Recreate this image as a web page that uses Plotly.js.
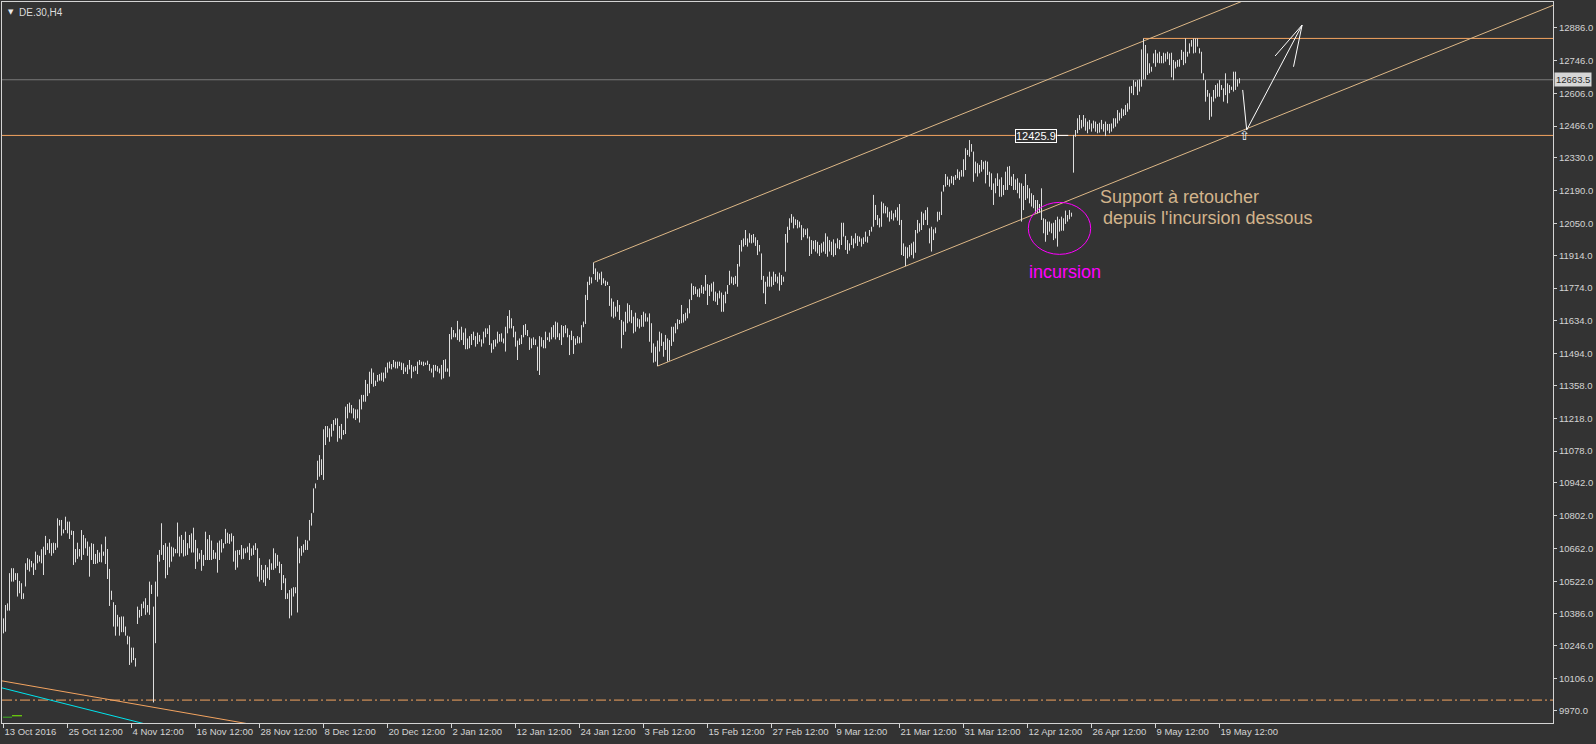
<!DOCTYPE html>
<html><head><meta charset="utf-8">
<script src="https://cdn.plot.ly/plotly-3.0.1.min.js"></script>
<style>html,body{margin:0;padding:0;background:#333333;}#chart{width:1596px;height:744px;}</style>
</head><body><div id="chart"></div>
<script>
// ---- DATA (DE.30, H4 bars: high / low) ----
const barHigh = [
10364,10421,10428,10557,10578,10578,10557,10557,10524,10514,
10471,10599,10621,10616,10609,10599,10649,10635,10631,10659,
10670,10716,10685,10702,10685,10687,10685,10791,10784,10784,
10744,10798,10777,10777,10739,10737,10660,10687,10660,10741,
10720,10706,10692,10670,10685,10682,10639,10656,10645,10680,
10649,10713,10660,10575,10482,10433,10421,10379,10369,10372,
10372,10329,10290,10286,10239,10239,10194,10414,10400,10426,
10436,10450,10421,10521,10507,10414,10521,10635,10656,10770,
10677,10685,10670,10687,10670,10666,10660,10773,10713,10720,
10699,10734,10685,10720,10727,10751,10699,10663,10642,10656,
10635,10734,10702,10720,10696,10656,10645,10687,10696,10702,
10685,10746,10730,10724,10727,10716,10653,10656,10656,10677,
10663,10663,10670,10685,10663,10675,10685,10663,10621,10592,
10571,10592,10582,10616,10599,10663,10642,10635,10606,10596,
10549,10535,10471,10485,10492,10497,10497,10713,10663,10673,
10680,10699,10696,10784,10813,10919,10940,11037,11061,11043,
11171,11185,11185,11175,11194,11211,11218,11218,11185,11194,
11168,11268,11279,11285,11275,11261,11256,11256,11299,11318,
11318,11382,11365,11417,11431,11413,11379,11403,11407,11413,
11413,11436,11456,11460,11450,11467,11460,11460,11460,11456,
11453,11436,11446,11467,11446,11439,11441,11460,11467,11460,
11460,11456,11464,11450,11431,11446,11446,11441,11431,11446,
11467,11470,11431,11578,11607,11595,11581,11634,11598,11609,
11584,11602,11559,11569,11578,11588,11569,11584,11574,11555,
11588,11602,11602,11616,11538,11552,11555,11588,11578,11581,
11559,11609,11655,11680,11645,11612,11588,11550,11559,11574,
11616,11621,11595,11564,11559,11564,11555,11524,11569,11564,
11552,11588,11564,11584,11607,11616,11631,11627,11581,11616,
11612,11616,11602,11574,11592,11569,11559,11569,11564,11616,
11631,11745,11801,11823,11820,11883,11858,11844,11837,11844,
11816,11806,11801,11783,11730,11716,11695,11723,11702,11638,
11631,11673,11709,11702,11680,11652,11669,11645,11641,11659,
11673,11666,11649,11666,11624,11538,11524,11550,11588,11581,
11545,11574,11559,11552,11609,11609,11624,11641,11638,11702,
11663,11669,11688,11726,11794,11783,11780,11769,11773,11787,
11780,11830,11791,11787,11794,11801,11759,11752,11763,11755,
11745,11759,11787,11848,11823,11820,11826,11877,11958,11979,
11986,12022,11986,12008,12001,12005,11991,11979,11958,11922,
11826,11801,11823,11844,11823,11844,11834,11823,11840,11830,
11823,12005,12036,12072,12090,12079,12068,12065,12058,12043,
12029,12025,12029,11994,11979,11976,11979,11972,11958,11965,
11972,12008,11994,11979,11972,11982,11965,11986,11979,12053,
12053,11997,11979,11965,11997,11986,12008,11997,11994,11986,
11991,12015,11994,12022,12036,12172,12129,12086,12072,12143,
12136,12125,12119,12100,12105,12093,12108,12119,12133,12065,
11965,11951,11948,11958,11965,11972,12022,12065,12051,12100,
12093,12107,12119,12029,12036,12025,12033,12100,12100,12186,
12214,12261,12250,12238,12253,12250,12257,12281,12271,12278,
12324,12371,12364,12406,12389,12357,12314,12307,12300,12321,
12314,12318,12314,12271,12264,12221,12243,12264,12238,12247,
12214,12271,12292,12295,12250,12261,12238,12243,12224,12221,
12210,12261,12214,12200,12179,12171,12150,12150,12133,12200,
12072,12068,12058,12058,12050,12053,12065,12079,12068,12079,
12072,12105,12086,12107,12096,12428,12449,12499,12513,12492,
12513,12499,12485,12492,12477,12489,12485,12475,12480,12492,
12475,12485,12475,12475,12477,12499,12499,12534,12523,12541,
12537,12556,12563,12634,12637,12662,12655,12662,12665,12793,
12840,12812,12776,12734,12719,12776,12791,12776,12783,12765,
12779,12776,12783,12776,12779,12748,12741,12748,12751,12791,
12783,12840,12783,12819,12833,12840,12840,12840,12798,12783,
12691,12662,12620,12606,12591,12620,12641,12648,12662,12641,
12627,12691,12648,12641,12634,12698,12698,12665,12670
];
const barLow = [
10300,10307,10397,10397,10521,10521,10528,10457,10471,10446,
10447,10500,10571,10564,10582,10549,10571,10599,10606,10599,
10549,10635,10656,10642,10631,10642,10656,10666,10760,10717,
10727,10741,10727,10703,10720,10592,10603,10618,10628,10613,
10635,10663,10631,10542,10613,10596,10596,10599,10605,10603,
10631,10596,10532,10417,10443,10329,10290,10329,10290,10305,
10305,10290,10253,10165,10175,10186,10158,10340,10367,10374,
10407,10379,10389,10379,10468,10005,10258,10457,10606,10635,
10613,10535,10549,10582,10606,10628,10642,10642,10628,10642,
10628,10631,10635,10663,10645,10645,10575,10606,10616,10567,
10588,10613,10613,10613,10613,10618,10618,10559,10613,10645,
10663,10682,10685,10682,10692,10606,10571,10581,10635,10616,
10618,10642,10645,10613,10631,10635,10656,10542,10521,10528,
10517,10502,10535,10528,10571,10571,10578,10588,10557,10485,
10514,10446,10447,10364,10376,10457,10471,10389,10599,10631,
10645,10656,10656,10696,10760,10815,10919,10955,10969,10976,
10955,11104,11137,11118,11140,11165,11190,11118,11133,11128,
11147,11151,11218,11242,11239,11218,11211,11218,11200,11256,
11289,11289,11313,11325,11365,11353,11356,11374,11379,11379,
11374,11389,11413,11431,11427,11436,11431,11431,11441,11424,
11407,11417,11407,11427,11389,11417,11421,11407,11446,11446,
11441,11446,11446,11421,11413,11393,11421,11417,11410,11384,
11389,11417,11417,11396,11555,11564,11564,11552,11545,11552,
11531,11513,11513,11517,11531,11552,11524,11535,11545,11524,
11538,11564,11578,11531,11498,11513,11524,11538,11545,11545,
11538,11503,11581,11602,11602,11564,11524,11467,11531,11535,
11564,11574,11569,11510,11517,11531,11531,11421,11403,11524,
11517,11517,11552,11545,11555,11564,11555,11564,11552,11531,
11564,11581,11564,11488,11552,11493,11531,11538,11538,11541,
11607,11621,11723,11787,11794,11834,11809,11801,11811,11787,
11794,11783,11787,11698,11652,11645,11652,11673,11638,11517,
11574,11588,11624,11631,11624,11581,11588,11609,11602,11609,
11609,11631,11631,11545,11498,11456,11460,11441,11503,11527,
11481,11510,11460,11464,11527,11545,11581,11598,11621,11624,
11627,11635,11645,11666,11723,11745,11749,11737,11735,11752,
11749,11763,11702,11740,11759,11720,11716,11702,11730,11673,
11673,11709,11749,11787,11794,11787,11792,11780,11866,11930,
11951,11958,11951,11968,11965,11968,11954,11915,11930,11809,
11752,11706,11780,11780,11780,11787,11801,11794,11763,11787,
11801,11844,11968,12022,12053,12029,12043,12029,12033,11979,
11991,12001,11986,11911,11920,11940,11930,11922,11911,11925,
11930,11920,11908,11930,11915,11908,11915,11944,11940,11958,
11994,11937,11920,11934,11958,11944,11965,11954,11972,11951,
11962,11972,11968,11997,12015,12036,12065,12043,12033,12036,
12093,12093,12076,12058,12068,12062,12076,12062,12043,11915,
11911,11868,11901,11908,11915,11901,11925,12008,12015,12022,
12043,12065,12043,11965,11930,11979,12008,12058,12065,12086,
12186,12207,12214,12207,12221,12214,12236,12243,12236,12250,
12250,12278,12342,12335,12356,12228,12264,12250,12264,12271,
12281,12221,12257,12207,12193,12129,12179,12210,12164,12164,
12171,12193,12193,12214,12210,12193,12193,12179,12157,12058,
12107,12150,12157,12136,12122,12115,12093,12093,12096,12065,
12008,11972,12001,12015,12008,11979,11986,11951,12015,12019,
12019,12048,12058,12068,12079,12267,12420,12435,12449,12456,
12463,12446,12435,12452,12442,12456,12442,12435,12438,12452,
12442,12423,12446,12435,12442,12456,12463,12477,12489,12499,
12509,12513,12527,12537,12606,12598,12634,12598,12613,12634,
12665,12665,12684,12691,12698,12734,12719,12736,12734,12734,
12734,12741,12751,12726,12674,12662,12712,12719,12719,12748,
12726,12734,12762,12776,12805,12776,12779,12805,12776,12691,
12662,12570,12591,12492,12506,12570,12584,12591,12591,12620,
12570,12598,12563,12606,12620,12613,12620,12634,12648
];
const dateLabels = ["13 Oct 2016","25 Oct 12:00","4 Nov 12:00","16 Nov 12:00","28 Nov 12:00",
  "8 Dec 12:00","20 Dec 12:00","2 Jan 12:00","12 Jan 12:00","24 Jan 12:00","3 Feb 12:00",
  "15 Feb 12:00","27 Feb 12:00","9 Mar 12:00","21 Mar 12:00","31 Mar 12:00","12 Apr 12:00",
  "26 Apr 12:00","9 May 12:00","19 May 12:00"];
const barsPerDateLabel = 32;
const priceTicks = [12886,12746,12606,12466,12330,12190,12050,11914,11774,11634,11494,
  11358,11218,11078,10942,10802,10662,10522,10386,10246,10106,9970];
const bidPrice = 12663.5;
const supportLevel = 12425.9;
const topLevel = 12840;       // horizontal line from the May high
const topLevelStartBar = 570;
const dashLevel = 10015;      // dash-dot level
// channel (anchor bar, anchor price), slope in points per bar
const channelUpper = [295, 11883];
const channelLower = [327, 11441];
const channelSlope = 3.44;
// old trend lines bottom-left  [bar, price] pairs
const oldLineOrange = [[-0.75, 10097], [135, 9895]];
const oldLineCyan = [[-0.75, 10067], [70, 9915]];
const greenSeg1 = [[-0.25, 9942], [4.25, 9942]];
const greenSeg2 = [[4.25, 9948], [9.25, 9948]];
// hand drawn path and projection arrow [bar, price]
const drawnDrop = [[619.6, 12620], [621.6, 12449]];
const arrowShaft = [[621.6, 12449], [649.3, 12897]];
const arrowHeadA = [[649.3, 12897], [635.8, 12765]];
const arrowHeadB = [[649.3, 12897], [645.0, 12719]];
const incursionEllipse = {x0: 512.4, x1: 543.6, y0: 11918, y1: 12140};

// ---- BUILD ----
const bx = [], by = [];
for (let i = 0; i < barHigh.length; i++) {
  bx.push(i, i, null);
  by.push(barLow[i], barHigh[i], null);
}
const xMax = 774.75;
const traces = [];
function seg(pts, color, width, dash) {
  traces.push({type:'scatter', mode:'lines', x: pts.map(p=>p[0]), y: pts.map(p=>p[1]),
    line:{color:color, width:width||1, dash:dash||'solid'}, hoverinfo:'skip'});
}
seg([[-0.75, dashLevel],[xMax, dashLevel]], '#f4a460', 1, '10px,3px,2px,3px');
seg([[-0.75, bidPrice],[xMax, bidPrice]], '#7a7a7a', 1);
seg([[-0.75, supportLevel],[xMax, supportLevel]], '#f4a460', 1);
seg([[topLevelStartBar, topLevel],[xMax, topLevel]], '#f4a460', 1);
seg([channelUpper, [xMax, channelUpper[1] + channelSlope*(xMax-channelUpper[0])]], '#deb887', 1);
seg([channelLower, [xMax, channelLower[1] + channelSlope*(xMax-channelLower[0])]], '#deb887', 1);
seg(oldLineOrange, '#f4a460', 1);
seg(oldLineCyan, '#00e5ee', 1);
seg(greenSeg1, '#3cb022', 1);
seg(greenSeg2, '#7cfc00', 1);
traces.push({type:'scatter', mode:'lines', x:bx, y:by, line:{color:'#dedede', width:1},
  hoverinfo:'skip', connectgaps:false});
seg([[527.1, supportLevel],[532.4, supportLevel]], '#ffffff', 1);
seg(drawnDrop, '#ffffff', 1);
seg(arrowShaft, '#ffffff', 1);
seg(arrowHeadA, '#ffffff', 1);
seg(arrowHeadB, '#ffffff', 1);

const tickFont = {family:'Liberation Sans, Arial, sans-serif', size:9.5, color:'#d4d4d4'};
const layout = {
  width:1596, height:744,
  margin:{l:2, r:43, t:2, b:21, pad:0},
  paper_bgcolor:'#333333', plot_bgcolor:'#333333',
  showlegend:false,
  xaxis:{range:[-0.75, xMax], tickmode:'array',
    tickvals: dateLabels.map((d,k)=>k*barsPerDateLabel), ticktext: dateLabels,
    ticks:'outside', ticklen:4, tickcolor:'#d4d4d4', tickwidth:1, tickangle:0,
    showgrid:false, zeroline:false, showline:true, linecolor:'#d4d4d4', linewidth:1, mirror:true,
    tickfont:tickFont, ticklabelposition:'outside right', fixedrange:true},
  yaxis:{side:'right', range:[9917.2, 12995.5], tickmode:'array', tickvals:priceTicks,
    ticktext: priceTicks.map(v=>v.toFixed(1)),
    ticks:'outside', ticklen:3, tickcolor:'#d4d4d4', tickwidth:1,
    showgrid:false, zeroline:false, showline:true, linecolor:'#d4d4d4', linewidth:1, mirror:true,
    tickfont:tickFont, fixedrange:true},
  shapes:[{type:'circle', xref:'x', yref:'y', x0:incursionEllipse.x0, x1:incursionEllipse.x1,
    y0:incursionEllipse.y0, y1:incursionEllipse.y1, line:{color:'#ff00ff', width:1}}],
  annotations:[
    {xref:'paper', yref:'paper', x:0, y:1, xanchor:'left', yanchor:'top', xshift:4, yshift:-4,
      text:'▼', showarrow:false, font:{family:'DejaVu Sans', size:7, color:'#e8e8e8'}},
    {xref:'paper', yref:'paper', x:0, y:1, xanchor:'left', yanchor:'top', xshift:15, yshift:-3,
      text:'DE.30,H4', showarrow:false, font:{family:'Liberation Sans, Arial', size:10, color:'#dcdcdc'}},
    {xref:'paper', yref:'y', x:1, y:bidPrice, xanchor:'left', yanchor:'middle', xshift:1,
      text:bidPrice.toFixed(1), showarrow:false, bgcolor:'#d6d6d6', borderpad:1,
      font:{family:'Liberation Sans, Arial', size:9.5, color:'#2a2a2a'}},
    {xref:'x', yref:'y', x:516.4, y:12422, xanchor:'center', yanchor:'middle',
      text:supportLevel.toFixed(1), showarrow:false, bgcolor:'#333333', bordercolor:'#ffffff',
      borderwidth:1, borderpad:0, font:{family:'Liberation Sans, Arial', size:11, color:'#ffffff'}},
    {xref:'x', yref:'y', x:620.3, y:12425.5, xanchor:'center', yanchor:'middle',
      text:'⇧', showarrow:false, font:{family:'DejaVu Sans', size:13, color:'#e6f2ff'}},
    {xref:'x', yref:'y', x:547.25, y:12163, xanchor:'left', yanchor:'middle',
      text:'Support à retoucher', showarrow:false,
      font:{family:'Liberation Sans, Arial', size:18, color:'#d2b48c'}},
    {xref:'x', yref:'y', x:548.75, y:12072, xanchor:'left', yanchor:'middle',
      text:"depuis l'incursion dessous", showarrow:false,
      font:{family:'Liberation Sans, Arial', size:18, color:'#d2b48c'}},
    {xref:'x', yref:'y', x:511.6, y:11844, xanchor:'left', yanchor:'middle',
      text:'incursion', showarrow:false,
      font:{family:'Liberation Sans, Arial', size:18, color:'#ff00ff'}}
  ]
};
Plotly.newPlot('chart', traces, layout, {staticPlot:true, displayModeBar:false});
</script></body></html>
